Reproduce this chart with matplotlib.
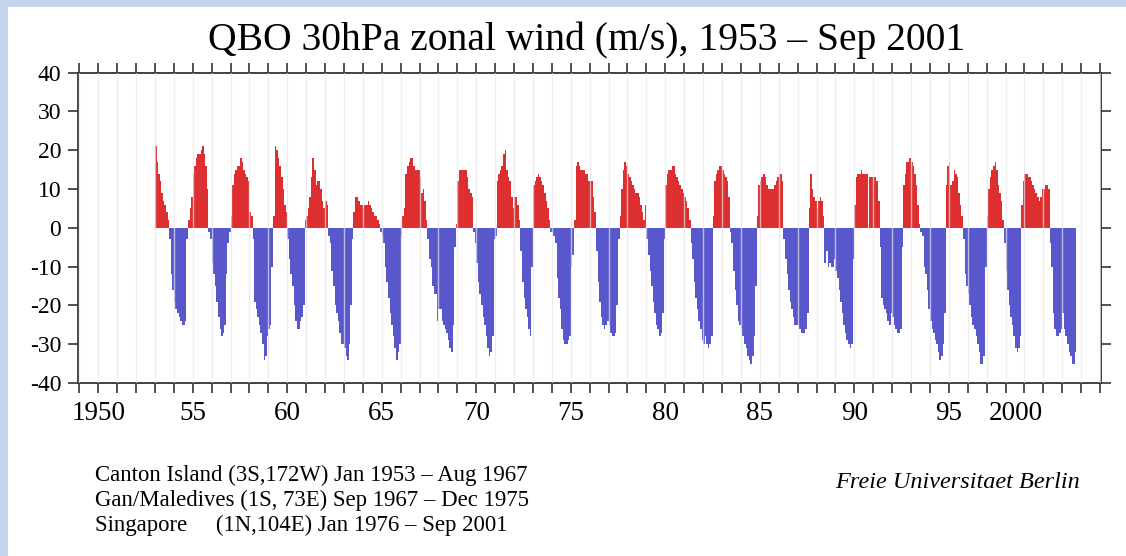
import numpy as np
import matplotlib
matplotlib.use("Agg")
import matplotlib.pyplot as plt
from matplotlib.patches import Rectangle

# monthly mean zonal wind at 30 hPa (m/s)
# Canton Island, Jan 1953 - Aug 1967
canton = [
    21, 17, 14, 12, 9, 7, 6, 4, 2, -3, -12, -16,            # 1953
    -19, -21, -22, -23, -24, -25, -25, -24, -3, 2, 5, 8,     # 1954
    14, 16, 18, 19, 19, 20, 21, 19, 16, 10, -1, -3,          # 1955
    -9, -12, -15, -19, -23, -26, -28, -27, -25, -12, -4, -1, # 1956
    3, 11, 14, 15, 16, 16, 18, 17, 15, 14, 13, 12,           # 1957
    4, 3, -3, -19, -21, -23, -25, -27, -30, -34, -33, -28,   # 1958
    -26, -25, -10, 3, 21, 20, 18, 16, 13, 10, 6, 4,          # 1959
    -3, -8, -12, -15, -20, -24, -26, -26, -24, -23, -20, 2,  # 1960
    3, 5, 8, 13, 18, 15, 11, 12, 12, 10, 7, 5,              # 1961
    7, 6, -2, -4, -11, -15, -20, -22, -24, -27, -30, -30,    # 1962
    -31, -33, -34, -30, -20, -3, 4, 8, 8, 7, 6, 6,           # 1963
    5, 6, 6, 7, 6, 5, 4, 3, 3, 2, 1, -1,                     # 1964
    -2, -4, -10, -14, -18, -22, -25, -28, -31, -34, -32, -30,  # 1965
    -2, 3, 5, 14, 16, 17, 18, 18, 16, 15, 15, 15,            # 1966
    13, 9, 10, 7, 2, -3, -8, -10,                            # 1967
]
# Gan / Maledives, Sep 1967 - Dec 1975
gan = [
    -15, -17, -17, -24,                                      # 1967
    -21, -21, -24, -25, -26, -27, -29, -31, -32, -25, -5, 1, # 1968
    12, 15, 15, 15, 15, 15, 13, 10, 9, 8, -1, -4,            # 1969
    -9, -14, -17, -20, -23, -25, -28, -31, -33, -32, -28, -3,  # 1970
    -2, 12, 14, 15, 16, 19, 20, 15, 13, 12, 8, 5,            # 1971
    8, 8, 6, 2, -6, -14, -18, -21, -23, -26, -28, -10,       # 1972
    11, 12, 13, 14, 13, 12, 11, 9, 7, 5, 2, -1,              # 1973
    -1, -2, -4, -13, -18, -21, -26, -29, -30, -30, -29, -28, # 1974
    -10, -7, 2, 16, 17, 16, 15, 15, 15, 14, 14, 12,          # 1975
]
# Singapore, Jan 1976 - Sep 2001
singapore = [
    12, 12, 8, 4, -6, -14, -19, -23, -25, -26, -25, -24,     # 1976
    -25, -27, -28, -28, -27, -20, -3, 3, 10, 15, 17, 16,     # 1977
    14, 13, 12, 11, 10, 9, 9, 8, 6, 4, 2, 6,                 # 1978
    -3, -7, -11, -15, -19, -22, -25, -26, -28, -27, -22, -3, # 1979
    11, 14, 15, 15, 16, 16, 14, 13, 12, 11, 10, 9,           # 1980
    8, 7, 5, 2, -4, -8, -14, -18, -21, -24, -26, -29,        # 1981
    -30, -28, -30, -31, -30, -28, 3, 12, 14, 15, 16, 16,     # 1982
    15, 14, 13, 12, 8, -1, -4, -11, -16, -20, -24, -25,      # 1983
    -26, -28, -30, -31, -33, -34, -35, -33, -28, -15, 3, 11, # 1984
    12, 13, 14, 13, 11, 10, 10, 10, 10, 11, 12, 13,          # 1985
    14, 14, 12, -3, -8, -12, -16, -19, -21, -23, -25, -25,   # 1986
    -25, -26, -27, -27, -27, -26, -22, 5, 14, 10, 8, 7,      # 1987
    5, 7, 8, 7, 3, -9, -6, -10, -9, -10, -10, -8,            # 1988
    -11, -13, -16, -19, -22, -25, -27, -29, -30, -31, -30, -8,  # 1989
    6, 13, 14, 14, 15, 14, 14, 14, 14, 13, 13, 13,           # 1990
    13, 13, 12, 7, -5, -18, -20, -21, -22, -24, -25, -22,    # 1991
    -23, -25, -26, -27, -27, -26, -5, 11, 14, 17, 17, 18,    # 1992
    17, 16, 14, 11, 6, 1, -1, -2, -10, -12, -16, -21,        # 1993
    -24, -26, -27, -29, -30, -32, -34, -33, -30, -22, 11, 16,  # 1994
    17, 11, 12, 15, 14, 13, 9, 6, 3, -3, -12, -15,           # 1995
    -17, -20, -23, -25, -26, -28, -30, -32, -35, -35, -33, -10,  # 1996
    3, 10, 13, 15, 16, 17, 15, 11, 9, 7, 2, -4,              # 1997
    -11, -16, -20, -23, -25, -28, -31, -32, -31, -28, 6, 12, # 1998
    14, 14, 13, 13, 12, 11, 10, 9, 8, 7, 8, 10,              # 1999
    10, 11, 11, 10, -4, -10, -22, -26, -28, -28, -27, -26,   # 2000
    -22, -26, -28, -30, -32, -33, -35, -35, -32,             # 2001
]

start_year = 1953
xticks_major = list(range(1950, 2001, 5))
xtick_labels = ["1950", "55", "60", "65", "70", "75", "80", "85", "90", "95", "2000"]
yticks = list(range(-40, 41, 10))

stations = [
    "Canton Island (3S,172W) Jan 1953 \u2013 Aug 1967",
    "Gan/Maledives (1S, 73E) Sep 1967 \u2013 Dec 1975",
    "Singapore     (1N,104E) Jan 1976 \u2013 Sep 2001",
]

u = np.array(canton + gan + singapore, dtype=float)
t = start_year + np.arange(len(u)) / 12.0

plt.rcParams['font.family'] = ['Liberation Serif', 'DejaVu Serif']

fig = plt.figure(figsize=(11.26, 5.56), dpi=100)
fig.patch.set_facecolor("white")
# light blue frame of the original slide
border = "#c6d5ee"
fig.patches.append(Rectangle((0, 1 - 7 / 556), 1, 7 / 556, transform=fig.transFigure,
                             facecolor=border, edgecolor="none", zorder=0))
fig.patches.append(Rectangle((0, 0), 8 / 1126, 1, transform=fig.transFigure,
                             facecolor=border, edgecolor="none", zorder=0))

ax = fig.add_axes([78 / 1126, 1 - 383 / 556, (1101 - 78) / 1126, (383 - 72.7) / 556])

colors = np.where(u >= 0, "#dd2f2f", "#5858cc")
ax.bar(t, u, width=1 / 12, align="edge", color=colors, linewidth=0, zorder=2)

# yearly grid lines drawn over the bars
for yr in range(1949, 2004):
    ax.axvline(yr, color="#e4e4ec", lw=1.0, alpha=0.7, zorder=3)

ax.set_xlim(1948.93, 2003.05)
ax.set_ylim(-40, 40)

ax.set_xticks(xticks_major)
xlabels = ax.set_xticklabels(xtick_labels, fontsize=19.5)
xlabels[-1].set_horizontalalignment("right")  # "2000" sits left of its tick in the original
ax.set_xticks(range(1949, 2004), minor=True)
ax.set_yticks(yticks)
ax.set_yticklabels([str(v) for v in yticks], fontsize=17)

ax.tick_params(axis="x", which="both", direction="out", length=7, width=1.2,
               top=True, bottom=True, labeltop=False, pad=6, color="#333333")
ax.tick_params(axis="y", which="both", direction="out", length=7, width=1.2,
               left=True, right=True, labelright=False, pad=5, color="#333333")
for s in ax.spines.values():
    s.set_linewidth(1.3)
    s.set_color("#333333")

fig.text(0.521, 0.928, "QBO 30hPa zonal wind (m/s), 1953 \u2013 Sep 2001",
         ha="center", va="center", fontsize=28.5)

for i, line in enumerate(stations):
    fig.text(95 / 1126, 1 - (475 + 25 * i) / 556, line, ha="left", va="center", fontsize=16.4)

fig.text(835 / 1126, 1 - 482 / 556, "Freie Universitaet Berlin", ha="left", va="center",
         fontsize=17.5, style="italic")

fig.savefig("out.png", dpi=100, facecolor=fig.get_facecolor())
